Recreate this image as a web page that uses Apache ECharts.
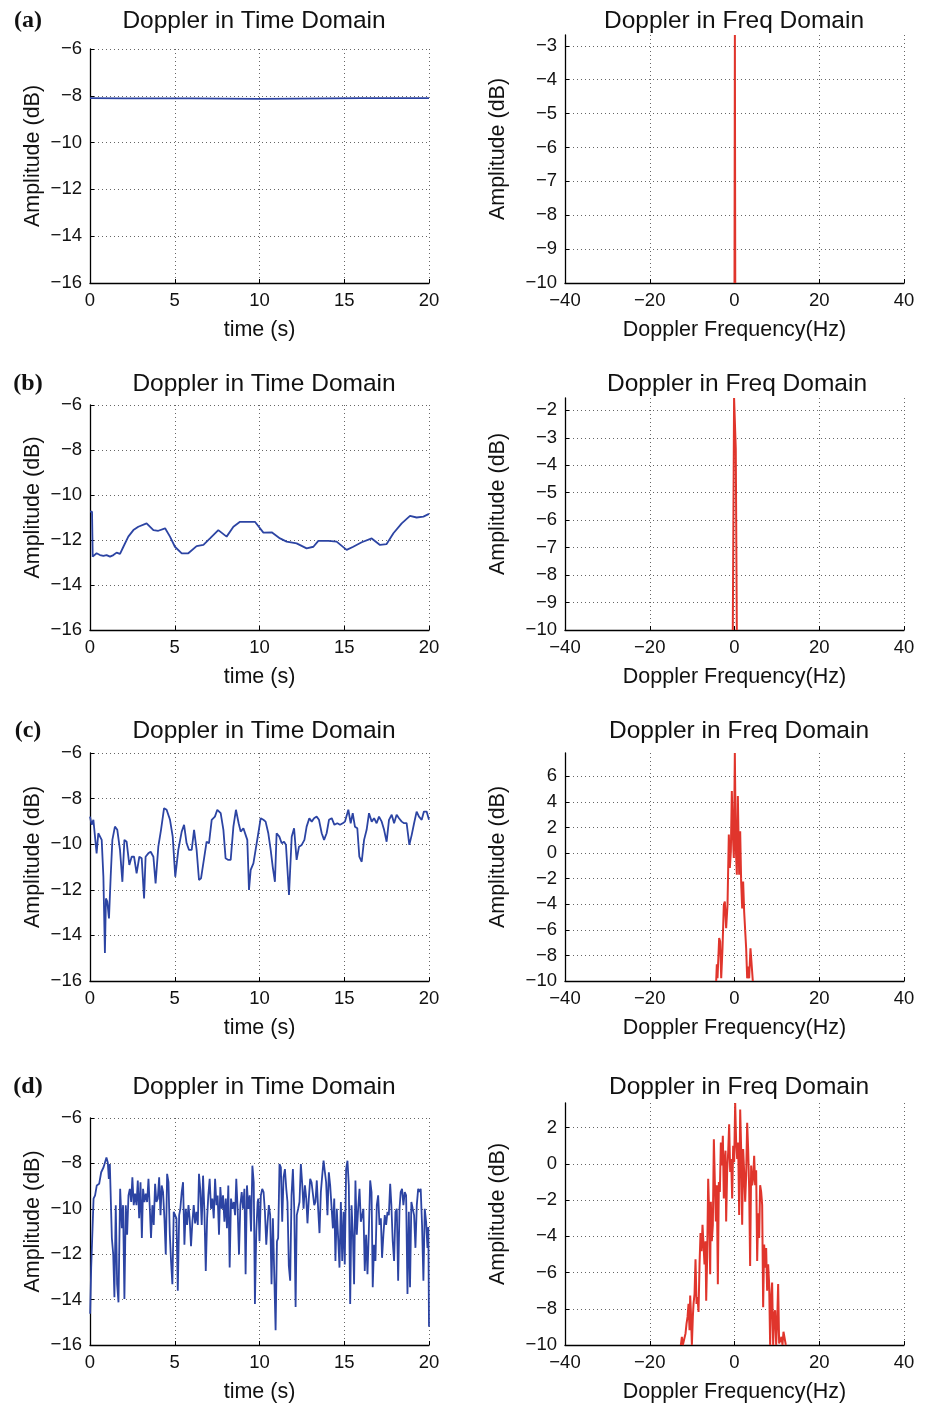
<!DOCTYPE html>
<html>
<head>
<meta charset="utf-8">
<script src="https://cdn.jsdelivr.net/npm/echarts@6/dist/echarts.min.js"></script>
<style>
html,body{margin:0;padding:0;background:#fff;}
#chart{width:928px;height:1404px;}
</style>
</head>
<body>
<div id="chart"></div>
<script>
// ---------------- DATA ----------------
const panelLabels = ['(a)', '(b)', '(c)', '(d)'];
const timeTitle = 'Doppler in Time Domain';
const freqTitle = 'Doppler in Freq Domain';
const timeAxisName = 'time (s)';
const freqAxisName = 'Doppler Frequency(Hz)';
const ampAxisName = 'Amplitude (dB)';

// (a) time domain
const tA = [0, 2, 4, 6, 8, 10, 12, 14, 16, 18, 20];
const vA = [-8.10, -8.11, -8.11, -8.11, -8.12, -8.13, -8.12, -8.11, -8.10, -8.10, -8.10];

// (b) time domain
const tB = [0.00, 0.12, 0.16, 0.39, 0.59, 0.79, 0.98, 1.18, 1.38, 1.57, 1.77, 1.97, 2.26, 2.56, 2.85, 3.34, 3.74, 4.03, 4.43, 4.72,
  5.01, 5.41, 5.80, 6.29, 6.69, 7.08, 7.57, 8.06, 8.46, 8.85, 9.34, 9.73, 10.23, 10.72, 11.21, 11.60, 12.19, 12.78, 13.18, 13.47,
  14.06, 14.55, 15.14, 15.53, 16.03, 16.62, 17.11, 17.50, 17.90, 18.39, 18.88, 19.27, 19.67, 20.00];
const vB = [-10.74, -10.74, -12.74, -12.59, -12.67, -12.71, -12.67, -12.74, -12.67, -12.56, -12.62, -12.30, -11.85, -11.56, -11.41, -11.26, -11.56, -11.59, -11.48, -11.85,
  -12.30, -12.59, -12.59, -12.27, -12.22, -11.93, -11.56, -11.85, -11.41, -11.19, -11.19, -11.19, -11.67, -11.66, -11.93, -12.07, -12.15, -12.37, -12.30, -12.04,
  -12.04, -12.07, -12.44, -12.30, -12.10, -11.93, -12.22, -12.18, -11.70, -11.26, -10.93, -11.00, -10.96, -10.84];

// (c) time domain
const tC = [0.00, 0.10, 0.20, 0.29, 0.39, 0.49, 0.59, 0.69, 0.79, 0.88, 0.94, 1.02, 1.12, 1.22, 1.32, 1.47, 1.61, 1.77, 1.91, 2.03,
  2.16, 2.32, 2.46, 2.60, 2.75, 2.91, 3.05, 3.19, 3.28, 3.44, 3.58, 3.74, 3.87, 4.03, 4.19, 4.37, 4.52, 4.72, 4.88, 5.03,
  5.21, 5.41, 5.55, 5.70, 5.84, 6.00, 6.14, 6.29, 6.43, 6.55, 6.73, 6.88, 7.02, 7.18, 7.37, 7.51, 7.71, 7.87, 8.00, 8.16,
  8.30, 8.46, 8.61, 8.77, 8.89, 9.05, 9.18, 9.28, 9.38, 9.48, 9.64, 9.77, 9.93, 10.07, 10.23, 10.36, 10.52, 10.66, 10.78, 10.91,
  11.01, 11.17, 11.31, 11.45, 11.56, 11.64, 11.74, 11.90, 12.04, 12.19, 12.33, 12.49, 12.65, 12.78, 12.94, 13.08, 13.22, 13.37, 13.51, 13.67,
  13.81, 13.96, 14.10, 14.26, 14.42, 14.59, 14.75, 14.91, 15.04, 15.24, 15.38, 15.50, 15.63, 15.77, 15.89, 16.03, 16.17, 16.32, 16.46, 16.62,
  16.76, 16.91, 17.05, 17.21, 17.35, 17.50, 17.64, 17.80, 17.94, 18.09, 18.23, 18.39, 18.53, 18.68, 18.84, 18.98, 19.12, 19.27, 19.41, 19.57,
  19.70, 19.86, 20.00];
const vC = [-8.79, -9.15, -8.93, -8.86, -10.40, -9.52, -9.59, -9.81, -11.43, -14.77, -12.38, -12.52, -13.26, -11.43, -9.81, -9.23, -9.37, -10.25, -11.65, -9.81,
  -9.89, -10.91, -10.55, -10.55, -11.28, -10.55, -10.62, -12.38, -10.55, -10.40, -10.33, -10.55, -11.72, -10.11, -9.37, -8.42, -8.49, -8.93, -9.67, -11.43,
  -10.25, -9.45, -9.15, -9.96, -10.25, -10.25, -9.37, -10.25, -11.57, -11.50, -10.62, -9.89, -9.96, -8.93, -8.79, -8.49, -8.64, -9.37, -10.62, -10.69,
  -10.69, -9.23, -8.49, -9.08, -9.45, -9.30, -9.59, -9.81, -12.01, -11.13, -10.84, -10.25, -9.52, -8.86, -8.93, -9.01, -9.52, -10.25, -10.99, -11.65,
  -9.52, -9.67, -9.96, -9.89, -10.03, -10.99, -12.23, -9.67, -9.30, -10.69, -10.11, -10.03, -9.81, -9.23, -8.86, -9.01, -8.86, -8.79, -8.93, -9.52,
  -9.81, -9.52, -8.93, -8.86, -9.15, -9.08, -9.15, -9.08, -9.01, -8.49, -9.08, -8.64, -9.23, -9.30, -10.55, -10.77, -9.81, -9.37, -8.64, -9.01,
  -8.86, -9.08, -8.79, -9.01, -9.37, -9.89, -8.93, -8.71, -9.08, -8.71, -8.86, -9.01, -9.08, -9.08, -10.03, -9.59, -9.08, -8.57, -8.79, -8.93,
  -8.57, -8.57, -8.93];

// (d) time domain
const tD = [0.01, 0.07, 0.15, 0.21, 0.30, 0.40, 0.54, 0.66, 0.80, 0.89, 0.97, 1.05, 1.11, 1.17, 1.23, 1.29, 1.37, 1.44, 1.52, 1.60,
  1.68, 1.78, 1.88, 1.95, 2.03, 2.11, 2.19, 2.27, 2.35, 2.43, 2.50, 2.58, 2.66, 2.74, 2.82, 2.90, 2.98, 3.06, 3.13, 3.21,
  3.29, 3.37, 3.45, 3.53, 3.60, 3.68, 3.76, 3.84, 3.92, 4.00, 4.08, 4.16, 4.23, 4.31, 4.39, 4.47, 4.55, 4.63, 4.71, 4.78,
  4.86, 4.94, 5.02, 5.10, 5.18, 5.26, 5.33, 5.41, 5.49, 5.57, 5.65, 5.73, 5.81, 5.88, 5.96, 6.04, 6.12, 6.20, 6.28, 6.36,
  6.43, 6.51, 6.59, 6.67, 6.75, 6.83, 6.91, 6.98, 7.06, 7.14, 7.22, 7.30, 7.38, 7.46, 7.53, 7.61, 7.69, 7.77, 7.85, 7.93,
  8.01, 8.08, 8.16, 8.24, 8.32, 8.40, 8.48, 8.56, 8.63, 8.71, 8.79, 8.87, 8.95, 9.03, 9.11, 9.18, 9.26, 9.34, 9.42, 9.50,
  9.58, 9.66, 9.73, 9.81, 9.89, 9.93, 10.00, 10.08, 10.16, 10.24, 10.32, 10.40, 10.48, 10.55, 10.63, 10.71, 10.79, 10.87, 10.95, 11.03,
  11.10, 11.18, 11.26, 11.34, 11.42, 11.50, 11.58, 11.65, 11.73, 11.81, 11.89, 11.97, 12.05, 12.13, 12.20, 12.28, 12.36, 12.44, 12.52, 12.60,
  12.68, 12.76, 12.83, 12.91, 12.99, 13.07, 13.15, 13.23, 13.30, 13.38, 13.46, 13.54, 13.62, 13.70, 13.78, 13.86, 13.93, 14.01, 14.09, 14.17,
  14.25, 14.33, 14.41, 14.48, 14.56, 14.64, 14.72, 14.80, 14.88, 14.96, 15.03, 15.11, 15.19, 15.27, 15.35, 15.43, 15.51, 15.58, 15.66, 15.74,
  15.82, 15.90, 15.98, 16.06, 16.13, 16.21, 16.29, 16.37, 16.45, 16.53, 16.61, 16.68, 16.76, 16.84, 16.92, 17.00, 17.08, 17.16, 17.23, 17.31,
  17.39, 17.47, 17.55, 17.63, 17.71, 17.78, 17.86, 17.94, 18.02, 18.10, 18.18, 18.26, 18.33, 18.41, 18.49, 18.57, 18.65, 18.73, 18.81, 18.88,
  18.96, 19.04, 19.12, 19.20, 19.28, 19.36, 19.43, 19.51, 19.59, 19.67, 19.75, 19.83, 19.91, 19.96, 20.00];
const vD = [-14.62, -12.59, -10.86, -9.55, -9.41, -8.97, -8.90, -8.39, -8.17, -8.25, -7.74, -7.96, -8.68, -8.03, -8.10, -11.29, -12.01, -13.90, -9.84, -13.32,
  -14.12, -9.12, -10.86, -9.84, -13.97, -9.84, -11.14, -9.41, -9.12, -9.70, -8.61, -9.84, -9.33, -9.84, -8.75, -10.42, -8.83, -11.29, -9.12, -9.70,
  -9.33, -9.70, -8.68, -10.00, -11.29, -9.84, -10.71, -8.90, -9.70, -9.55, -8.61, -10.28, -8.97, -9.26, -10.42, -12.01, -8.46, -8.83, -11.14, -12.30,
  -13.32, -10.13, -10.28, -10.42, -13.61, -10.28, -9.99, -9.26, -8.83, -11.58, -10.00, -10.71, -9.84, -10.42, -11.65, -10.57, -9.84, -10.64, -10.13, -10.71,
  -8.46, -9.19, -10.71, -8.54, -10.13, -12.74, -10.42, -9.41, -8.68, -10.00, -9.55, -10.42, -8.68, -9.84, -9.41, -11.14, -9.04, -10.00, -9.41, -10.57,
  -9.55, -10.86, -8.97, -12.59, -9.55, -10.00, -9.70, -10.28, -8.68, -10.00, -12.01, -9.84, -9.26, -10.00, -9.12, -12.88, -8.97, -10.00, -9.41, -11.00,
  -8.10, -8.83, -14.19, -11.00, -9.70, -9.55, -11.43, -9.41, -9.12, -9.26, -10.13, -11.58, -10.57, -9.84, -10.28, -13.32, -10.42, -10.35, -15.35, -11.43,
  -11.29, -8.03, -8.17, -10.57, -8.61, -8.25, -9.12, -9.70, -12.52, -13.17, -9.41, -8.25, -10.00, -14.33, -10.28, -10.00, -9.70, -8.03, -8.90, -10.00,
  -8.97, -9.55, -10.64, -9.55, -8.68, -8.83, -8.75, -9.84, -9.70, -8.75, -10.00, -11.07, -9.26, -8.54, -7.88, -8.39, -8.83, -10.28, -8.39, -8.97,
  -8.90, -10.86, -9.55, -12.30, -10.00, -11.29, -12.59, -9.70, -12.30, -10.13, -12.45, -8.25, -7.88, -8.97, -14.19, -9.84, -11.14, -13.32, -8.75, -11.14,
  -10.00, -9.12, -10.57, -10.28, -10.00, -12.74, -11.14, -12.88, -11.00, -8.75, -9.26, -13.46, -11.58, -12.30, -9.84, -9.41, -10.71, -10.42, -12.16, -11.14,
  -10.28, -10.71, -10.13, -10.28, -8.90, -9.84, -11.43, -12.30, -10.13, -10.00, -13.17, -10.00, -9.26, -9.12, -9.84, -9.26, -9.41, -13.75, -10.13, -13.46,
  -9.70, -10.00, -10.28, -11.72, -9.84, -9.12, -9.26, -9.12, -10.71, -13.17, -10.00, -10.57, -11.72, -10.80, -15.20];

// Frequency domain (Hz, dB)
const fA = [0.00, 0.09, 0.18];
const aA = [-10, -2.68, -10];

const fB = [-0.40, -0.10, 0.00, 0.10, 0.30, 0.35, 0.55];
const aB = [-10, -1.55, -1.55, -1.60, -3.40, -3.45, -10];

const fC = [-4.32, -4.17, -4.01, -3.62, -3.38, -3.14, -2.83, -2.52, -2.28, -1.97, -1.65, -1.34, -1.10, -0.86, -0.63, -0.39, -0.16, 0.08, 0.31, 0.55,
  0.79, 1.10, 1.34, 1.57, 1.81, 2.04, 2.28, 2.52, 2.75, 2.99, 3.22, 3.46, 3.77, 4.09, 4.32];
const aC = [-10, -8.69, -9.79, -6.65, -6.91, -9.79, -7.44, -4.04, -3.78, -5.87, -4.04, 1.45, -1.16, 0.14, 4.85, 1.45, -0.38, 7.83, 0.41, -1.69,
  4.46, -1.69, 1.71, -2.23, -4.33, -2.23, -4.59, -4.46, -7.44, -9.79, -8.88, -9.79, -7.44, -7.39, -10];

const fD = [-12.66, -12.42, -12.19, -11.87, -11.56, -11.32, -11.08, -10.85, -10.61, -10.46, -10.30, -10.06, -9.83, -9.67, -9.43, -9.20, -8.96, -8.73, -8.49, -8.25,
  -8.02, -7.78, -7.55, -7.31, -7.08, -6.84, -6.68, -6.45, -6.21, -5.97, -5.74, -5.58, -5.35, -5.11, -4.87, -4.64, -4.40, -4.17, -3.93, -3.69,
  -3.46, -3.22, -2.99, -2.75, -2.52, -2.28, -2.12, -1.97, -1.73, -1.49, -1.26, -1.02, -0.79, -0.55, -0.31, -0.08, 0.16, 0.39, 0.63, 0.86,
  1.10, 1.34, 1.57, 1.81, 2.04, 2.28, 2.52, 2.75, 2.99, 3.22, 3.46, 3.69, 3.93, 4.17, 4.40, 4.64, 4.87, 5.11, 5.35, 5.58,
  5.82, 6.05, 6.29, 6.53, 6.76, 7.00, 7.23, 7.47, 7.70, 7.94, 8.18, 8.41, 8.65, 8.88, 9.12, 9.36, 9.59, 9.83, 10.06, 10.30,
  10.53, 10.77, 11.08, 11.32, 11.56, 11.87, 12.11];
const aD = [-10, -9.55, -10, -9.91, -9.36, -8.82, -8.45, -7.73, -9.18, -7.27, -8.09, -10, -8.45, -7.73, -7.18, -5.27, -7.73, -7.36, -8.18, -5.55,
  -3.82, -4.82, -3.36, -4.45, -5.55, -4.27, -7.55, -5.18, -0.82, -2.82, -6.09, -2.09, -4.27, -3.36, 1.36, -1.00, -3.18, -1.18, -6.64, -1.00,
  -1.55, 1.18, -0.09, 1.55, -1.91, 0.27, 0.73, -3.18, -0.36, 0.64, 2.18, -0.45, 0.27, -1.91, 1.00, 0.09, 3.36, 1.18, 0.27, 1.18,
  -2.82, 3.00, 0.82, -3.36, 0.82, -0.45, -2.09, -0.64, 2.27, 0.82, -1.36, -5.64, -0.09, -1.18, -0.82, 0.45, -1.18, -0.36, -5.36, -2.73,
  -4.09, -1.18, -1.55, -2.27, -7.91, -4.45, -5.73, -4.64, -7.00, -5.55, -6.64, -10, -7.36, -6.55, -10, -8.27, -8.09, -10, -8.82, -6.64,
  -9.91, -10, -9.55, -10, -9.27, -9.36, -10];

const freqYMax = [-2.68, -1.55, 7.83, 3.36];
const freqYStep = [1, 1, 2, 2];

// ---------------- LAYOUT / STYLE ----------------
const FONT = '"Liberation Sans", Arial, Helvetica, sans-serif';
const BLUE = '#2c44a3';
const RED = '#e0352c';

const leftGrids = [
  {left: 90, top: 49, width: 339, height: 234},
  {left: 90, top: 405, width: 339, height: 225},
  {left: 90, top: 753, width: 339, height: 228},
  {left: 90, top: 1118, width: 339, height: 230}
];
const rightGrids = [
  {left: 565, top: 35, width: 339, height: 248},
  {left: 565, top: 398, width: 339, height: 232},
  {left: 565, top: 753, width: 339, height: 228},
  {left: 565, top: 1103, width: 339, height: 245}
];
const rowTitleY = [21, 384, 731, 1087];
const leftTitleX = [254, 264, 264, 264];
const rightTitleX = [734, 737, 739, 739];

const timeSeries = [[tA, vA], [tB, vB], [tC, vC], [tD, vD]];
const freqSeries = [[fA, aA], [fB, aB], [fC, aC], [fD, aD]];

function zip(x, y) { return x.map((v, i) => [v, y[i]]); }
function fmt(v) {
  if (Math.abs(v - Math.round(v)) > 1e-6) return '';
  return String(Math.round(v)).replace('-', '\u2212');
}

const grids = [], xAxes = [], yAxes = [], series = [], graphics = [];

const splitLineStyle = {show: true, lineStyle: {color: '#666', width: 1, type: [1, 3]}};
const axisLineStyle = {show: true, onZero: false, lineStyle: {color: '#000', width: 1.3}};
const tickStyle = {show: true, inside: true, length: 4, lineStyle: {color: '#000'}};
const labelStyle = {color: '#111', fontSize: 18.5, fontFamily: FONT, formatter: fmt};
const nameStyle = {color: '#111', fontSize: 21.5, fontFamily: FONT};

for (let r = 0; r < 4; r++) {
  // left: time domain
  let gi = grids.length;
  grids.push(leftGrids[r]);
  xAxes.push({
    type: 'value', gridIndex: gi, min: 0, max: 20, interval: 5,
    axisLine: axisLineStyle, axisTick: tickStyle, splitLine: splitLineStyle,
    axisLabel: Object.assign({margin: 8}, labelStyle),
    name: timeAxisName, nameLocation: 'middle', nameGap: 36, nameTextStyle: nameStyle
  });
  yAxes.push({
    type: 'value', gridIndex: gi, min: -16, max: -6, interval: 2,
    axisLine: axisLineStyle, axisTick: tickStyle, splitLine: splitLineStyle,
    axisLabel: Object.assign({margin: 8}, labelStyle),
    name: ampAxisName, nameLocation: 'middle', nameGap: 46,
    nameTextStyle: Object.assign({padding: [0, 0, 0, 20]}, nameStyle)
  });
  series.push({
    type: 'line', xAxisIndex: gi, yAxisIndex: gi, data: zip(timeSeries[r][0], timeSeries[r][1]),
    showSymbol: false, animation: false, lineStyle: {color: BLUE, width: 1.8}, itemStyle: {color: BLUE}
  });

  // right: freq domain
  gi = grids.length;
  grids.push(rightGrids[r]);
  xAxes.push({
    type: 'value', gridIndex: gi, min: -40, max: 40, interval: 20,
    axisLine: axisLineStyle, axisTick: tickStyle, splitLine: splitLineStyle,
    axisLabel: Object.assign({margin: 8}, labelStyle),
    name: freqAxisName, nameLocation: 'middle', nameGap: 36, nameTextStyle: nameStyle
  });
  yAxes.push({
    type: 'value', gridIndex: gi, min: -10, max: freqYMax[r], interval: freqYStep[r],
    axisLine: axisLineStyle, axisTick: tickStyle,
    splitLine: Object.assign({showMaxLine: false}, splitLineStyle),
    axisLabel: Object.assign({margin: 8, showMaxLabel: false}, labelStyle),
    name: ampAxisName, nameLocation: 'middle', nameGap: 56,
    nameTextStyle: Object.assign({padding: [0, 0, 0, 20]}, nameStyle)
  });
  series.push({
    type: 'line', xAxisIndex: gi, yAxisIndex: gi, data: zip(freqSeries[r][0], freqSeries[r][1]),
    showSymbol: false, animation: false, lineStyle: {color: RED, width: 2}, itemStyle: {color: RED}
  });

  // titles and labels
  graphics.push({type: 'text', x: leftTitleX[r], y: rowTitleY[r],
    style: {text: timeTitle, fill: '#111', font: '24.5px ' + FONT, textAlign: 'center', textVerticalAlign: 'middle'}});
  graphics.push({type: 'text', x: rightTitleX[r], y: rowTitleY[r],
    style: {text: freqTitle, fill: '#111', font: '24.5px ' + FONT, textAlign: 'center', textVerticalAlign: 'middle'}});
  graphics.push({type: 'text', x: 28, y: rowTitleY[r],
    style: {text: panelLabels[r], fill: '#111', font: 'bold 24px "Liberation Serif", "Times New Roman", serif', textAlign: 'center', textVerticalAlign: 'middle'}});
}

const chart = echarts.init(document.getElementById('chart'), null, {renderer: 'canvas'});
chart.setOption({
  animation: false,
  backgroundColor: '#fff',
  grid: grids,
  xAxis: xAxes,
  yAxis: yAxes,
  series: series,
  graphic: graphics
});
</script>
</body>
</html>
